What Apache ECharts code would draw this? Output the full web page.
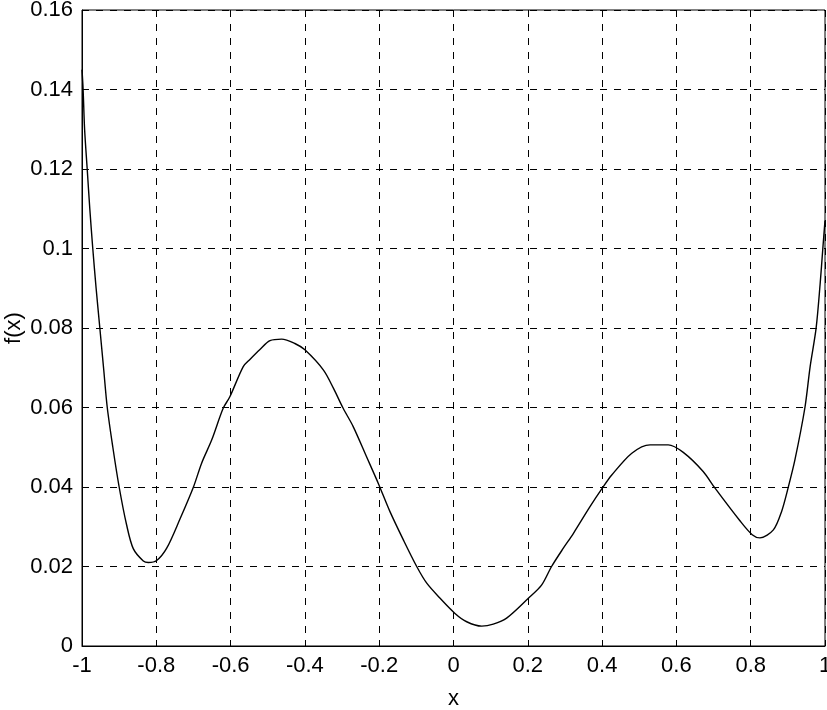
<!DOCTYPE html>
<html>
<head>
<meta charset="utf-8">
<script src="https://cdn.jsdelivr.net/npm/echarts@6/dist/echarts.min.js"></script>
<style>
html,body{margin:0;padding:0;background:#fff;}
#chart{width:827px;height:710px;}
</style>
</head>
<body>
<div id="chart"></div>
<script>
var xValues = [-1.000,-0.997,-0.993,-0.986,-0.979,-0.971,-0.962,-0.952,-0.942,-0.932,-0.917,-0.900,-0.880,-0.862,-0.835,-0.8215,-0.799,-0.772,-0.736,-0.700,-0.678,-0.651,-0.620,-0.602,-0.566,-0.548,-0.521,-0.494,-0.4625,-0.427,-0.400,-0.350,-0.323,-0.297,-0.270,-0.234,-0.2024,-0.171,-0.135,-0.099,-0.072,-0.036,0.004,0.0355,0.076,0.107,0.143,0.2015,0.237,0.264,0.2956,0.3225,0.367,0.4005,0.426,0.480,0.529,0.578,0.6185,0.672,0.704,0.771,0.804,0.825,0.861,0.883,0.901,0.919,0.946,0.960,0.976,0.987,0.994,1.000];
var fValues = [0.145,0.140,0.130,0.120,0.110,0.100,0.090,0.080,0.070,0.060,0.050,0.040,0.0305,0.0245,0.0214,0.0210,0.0215,0.0246,0.0320,0.0400,0.0460,0.0518,0.0598,0.0627,0.0703,0.0721,0.0746,0.0768,0.0772,0.0761,0.0745,0.0694,0.0648,0.0598,0.0552,0.0476,0.0409,0.0338,0.0267,0.0200,0.0158,0.0120,0.0082,0.0061,0.0050,0.0055,0.0070,0.0120,0.0153,0.0200,0.0246,0.0283,0.0350,0.0397,0.0430,0.0485,0.0506,0.0506,0.0487,0.0439,0.0397,0.0315,0.0280,0.0272,0.0292,0.0338,0.0399,0.0468,0.0600,0.0703,0.0799,0.0912,0.0998,0.107];
var xTickLabels = ['-1','-0.8','-0.6','-0.4','-0.2','0','0.2','0.4','0.6','0.8','1'];
var yTickLabels = ['0','0.02','0.04','0.06','0.08','0.1','0.12','0.14','0.16'];

var pts = xValues.map(function(x,i){return [x,fValues[i]];});
var font = 'Liberation Sans, Arial, sans-serif';
var chart = echarts.init(document.getElementById('chart'), null, {renderer:'canvas'});
chart.setOption({
  animation:false,
  backgroundColor:'#fff',
  grid:{left:82,right:2,top:10,bottom:64,show:true,borderColor:'#000',borderWidth:1,containLabel:false,outerBoundsMode:'none'},
  xAxis:{
    type:'value',min:-1,max:1,interval:0.2,
    name:'x',nameLocation:'middle',nameGap:42,nameMoveOverlap:false,
    nameTextStyle:{fontFamily:font,fontSize:22,color:'#000'},
    axisLine:{show:true,onZero:false,lineStyle:{color:'#000',width:1}},
    axisTick:{show:true,inside:true,length:6,lineStyle:{color:'#000'}},
    axisLabel:{fontFamily:font,fontSize:22,color:'#000',margin:9,hideOverlap:false,
      formatter:function(v){var i=Math.round((v+1)/0.2);return xTickLabels[i];}},
    splitLine:{show:true,lineStyle:{color:'#000',type:[7,7],width:1}}
  },
  yAxis:{
    type:'value',min:0,max:0.16,interval:0.02,
    name:'f(x)',nameLocation:'middle',nameGap:57,nameMoveOverlap:false,
    nameTextStyle:{fontFamily:font,fontSize:22,color:'#000'},
    axisLine:{show:true,onZero:false,lineStyle:{color:'#000',width:1}},
    axisTick:{show:true,inside:true,length:6,lineStyle:{color:'#000'}},
    axisLabel:{fontFamily:font,fontSize:22,color:'#000',margin:9,
      formatter:function(v){var i=Math.round(v/0.02);return yTickLabels[i];}},
    splitLine:{show:true,lineStyle:{color:'#000',type:[7,7],width:1}}
  },
  series:[{
    type:'line',data:pts,showSymbol:false,smooth:0.3,
    lineStyle:{color:'#000',width:1.4},
    clip:true
  }]
});
</script>
</body>
</html>
